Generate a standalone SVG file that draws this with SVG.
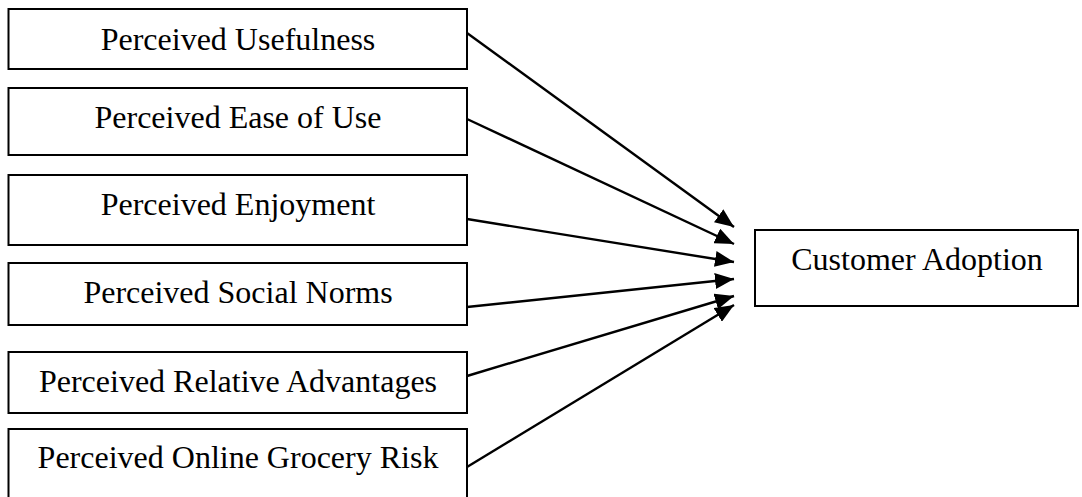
<svg xmlns="http://www.w3.org/2000/svg" width="1082" height="497" viewBox="0 0 1082 497">
<style>
.box{fill:#fff;stroke:#000;stroke-width:2}
.lbl{font-family:"Liberation Serif","Times New Roman",serif;font-size:32px;fill:#000;text-anchor:middle}
.con{stroke:#000;stroke-width:2.4;fill:none;marker-end:url(#ah)}
</style>
<defs>
<marker id="ah" markerUnits="userSpaceOnUse" markerWidth="20" markerHeight="16" refX="19" refY="8" orient="auto">
<path d="M0,0 L19,8 L0,16 Z" fill="#000"/>
</marker>
</defs>
<rect width="1082" height="497" fill="#fff"/>
<g id="pu"><rect class="box" x="8.5" y="9" width="458.5" height="60"/><text class="lbl" x="238" y="50">Perceived Usefulness</text></g>
<g id="peou"><rect class="box" x="8.5" y="88" width="458.5" height="67"/><text class="lbl" x="238" y="128">Perceived Ease of Use</text></g>
<g id="pe"><rect class="box" x="8.5" y="175" width="458.5" height="70"/><text class="lbl" x="238" y="215">Perceived Enjoyment</text></g>
<g id="psn"><rect class="box" x="8.5" y="263" width="458.5" height="62"/><text class="lbl" x="238" y="303">Perceived Social Norms</text></g>
<g id="pra"><rect class="box" x="8.5" y="352" width="458.5" height="61"/><text class="lbl" x="238" y="392">Perceived Relative Advantages</text></g>
<g id="pogr"><rect class="box" x="8.5" y="429" width="458.5" height="80"/><text class="lbl" x="238" y="468">Perceived Online Grocery Risk</text></g>
<g id="ca"><rect class="box" x="755" y="230" width="323" height="76"/><text class="lbl" x="917" y="270">Customer Adoption</text></g>
<g id="connectors">
<line class="con" x1="467" y1="33" x2="734" y2="227"/>
<line class="con" x1="467" y1="119" x2="734" y2="244"/>
<line class="con" x1="467" y1="219" x2="734" y2="262"/>
<line class="con" x1="467" y1="307" x2="734" y2="279"/>
<line class="con" x1="467" y1="376" x2="734" y2="296"/>
<line class="con" x1="467" y1="467" x2="734" y2="305"/>
</g>
</svg>
